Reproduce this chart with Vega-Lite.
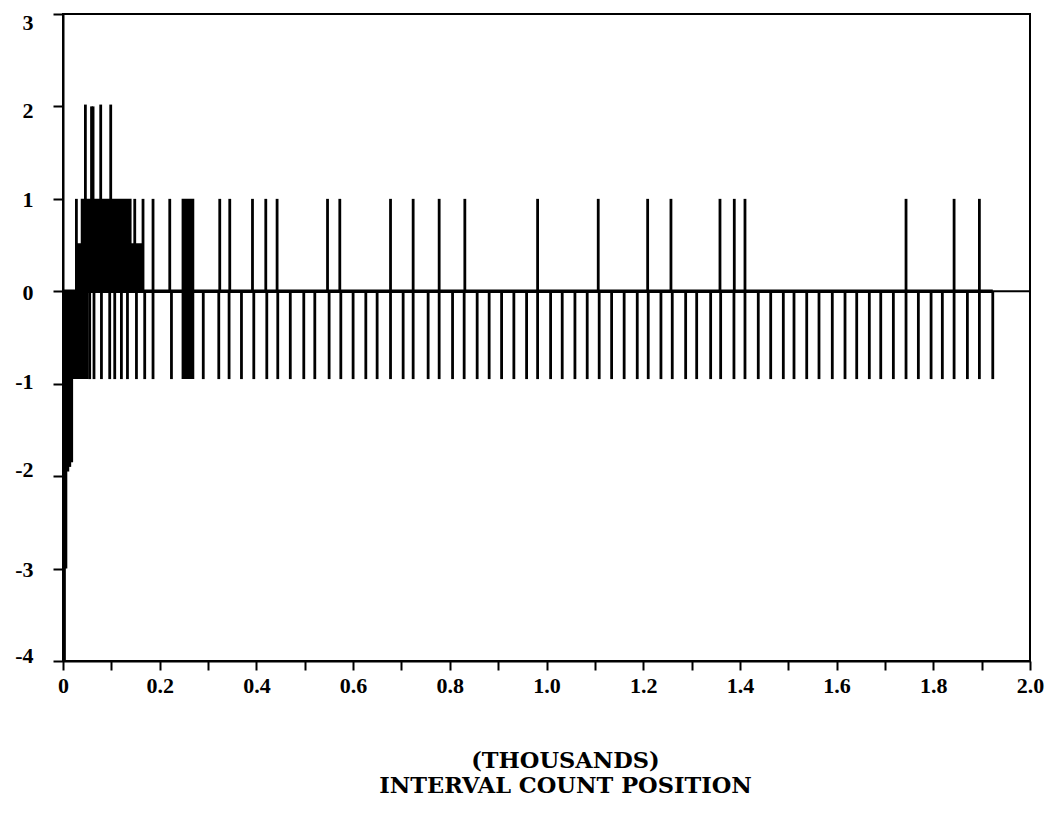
{
  "$schema": "https://vega.github.io/schema/vega-lite/v6.json",
  "width": 967,
  "height": 647,
  "autosize": {"type": "none"},
  "padding": {"left": 63, "top": 14, "right": 21, "bottom": 156},
  "background": "white",
  "config": {
    "view": {"stroke": "black", "strokeWidth": 2},
    "axis": {
      "labelFont": "Liberation Serif",
      "labelFontWeight": "bold",
      "labelColor": "black",
      "titleFont": "DejaVu Serif",
      "titleFontWeight": "bold",
      "titleColor": "black",
      "domainColor": "black",
      "domainWidth": 2,
      "tickColor": "black",
      "tickWidth": 2,
      "grid": false
    }
  },
  "datasets": {
    "spikes": [
      {"x": 0.003, "v": -4.0}, {"x": 0.006, "v": -3.0}, {"x": 0.010, "v": -1.95}, {"x": 0.014, "v": -1.9}, {"x": 0.018, "v": -1.85},
      {"x": 0.0552, "v": -0.95}, {"x": 0.0641, "v": -0.95}, {"x": 0.0795, "v": -0.95}, {"x": 0.0966, "v": -0.95},
      {"x": 0.1070, "v": -0.95}, {"x": 0.1208, "v": -0.95}, {"x": 0.1333, "v": -0.95}, {"x": 0.1519, "v": -0.95},
      {"x": 0.1690, "v": -0.95}, {"x": 0.1862, "v": -0.95}, {"x": 0.2243, "v": -0.95}, {"x": 0.2901, "v": -0.95},
      {"x": 0.3222, "v": -0.95}, {"x": 0.3435, "v": -0.95}, {"x": 0.3691, "v": -0.95}, {"x": 0.3946, "v": -0.95},
      {"x": 0.4215, "v": -0.95}, {"x": 0.4442, "v": -0.95}, {"x": 0.4701, "v": -0.95}, {"x": 0.4980, "v": -0.95},
      {"x": 0.5208, "v": -0.95}, {"x": 0.5504, "v": -0.95}, {"x": 0.5746, "v": -0.95}, {"x": 0.6000, "v": -0.95},
      {"x": 0.6263, "v": -0.95}, {"x": 0.6497, "v": -0.95}, {"x": 0.6774, "v": -0.95}, {"x": 0.7035, "v": -0.95},
      {"x": 0.7242, "v": -0.95}, {"x": 0.7552, "v": -0.95}, {"x": 0.7780, "v": -0.95}, {"x": 0.8057, "v": -0.95},
      {"x": 0.8297, "v": -0.95}, {"x": 0.8566, "v": -0.95}, {"x": 0.8814, "v": -0.95}, {"x": 0.9071, "v": -0.95},
      {"x": 0.9325, "v": -0.95}, {"x": 0.9588, "v": -0.95}, {"x": 0.9816, "v": -0.95}, {"x": 1.0085, "v": -0.95},
      {"x": 1.0325, "v": -0.95}, {"x": 1.0588, "v": -0.95}, {"x": 1.0842, "v": -0.95}, {"x": 1.1090, "v": -0.95},
      {"x": 1.1347, "v": -0.95}, {"x": 1.1606, "v": -0.95}, {"x": 1.1877, "v": -0.95}, {"x": 1.2104, "v": -0.95},
      {"x": 1.2367, "v": -0.95}, {"x": 1.2601, "v": -0.95}, {"x": 1.2878, "v": -0.95}, {"x": 1.3106, "v": -0.95},
      {"x": 1.3395, "v": -0.95}, {"x": 1.3602, "v": -0.95}, {"x": 1.3877, "v": -0.95}, {"x": 1.4105, "v": -0.95},
      {"x": 1.4380, "v": -0.95}, {"x": 1.4637, "v": -0.95}, {"x": 1.4898, "v": -0.95}, {"x": 1.5119, "v": -0.95},
      {"x": 1.5382, "v": -0.95}, {"x": 1.5636, "v": -0.95}, {"x": 1.5911, "v": -0.95}, {"x": 1.6174, "v": -0.95},
      {"x": 1.6416, "v": -0.95}, {"x": 1.6677, "v": -0.95}, {"x": 1.6913, "v": -0.95}, {"x": 1.7174, "v": -0.95},
      {"x": 1.7436, "v": -0.95}, {"x": 1.7691, "v": -0.95}, {"x": 1.7954, "v": -0.95}, {"x": 1.8187, "v": -0.95},
      {"x": 1.8430, "v": -0.95}, {"x": 1.8705, "v": -0.95}, {"x": 1.8953, "v": -0.95}, {"x": 1.9230, "v": -0.95},
      {"x": 0.0277, "v": 1.0}, {"x": 0.1484, "v": 1.0}, {"x": 0.1655, "v": 1.0}, {"x": 0.1862, "v": 1.0},
      {"x": 0.2208, "v": 1.0}, {"x": 0.3242, "v": 1.0}, {"x": 0.3449, "v": 1.0}, {"x": 0.3919, "v": 1.0},
      {"x": 0.4194, "v": 1.0}, {"x": 0.4428, "v": 1.0}, {"x": 0.5471, "v": 1.0}, {"x": 0.5725, "v": 1.0},
      {"x": 0.6774, "v": 1.0}, {"x": 0.7242, "v": 1.0}, {"x": 0.7780, "v": 1.0}, {"x": 0.8311, "v": 1.0},
      {"x": 0.9816, "v": 1.0}, {"x": 1.1070, "v": 1.0}, {"x": 1.2092, "v": 1.0}, {"x": 1.2574, "v": 1.0},
      {"x": 1.3588, "v": 1.0}, {"x": 1.3884, "v": 1.0}, {"x": 1.4105, "v": 1.0}, {"x": 1.7436, "v": 1.0},
      {"x": 1.8430, "v": 1.0}, {"x": 1.8953, "v": 1.0},
      {"x": 0.0463, "v": 2.02}, {"x": 0.0590, "v": 2.0}, {"x": 0.0622, "v": 2.0}, {"x": 0.0780, "v": 2.02}, {"x": 0.0987, "v": 2.02}
    ],
    "blocks": [
      {"x0": 0.0, "x1": 0.053, "v0": -0.95, "v1": 0},
      {"x0": 0.0277, "x1": 0.1655, "v0": 0, "v1": 0.52},
      {"x0": 0.0367, "x1": 0.1418, "v0": 0, "v1": 1.0},
      {"x0": 0.2453, "x1": 0.2715, "v0": -0.95, "v1": 1.0}
    ],
    "baseline": [{"x0": 0, "x1": 1.923}],
    "zeroline": [{"x0": 0, "x1": 2.0}]
  },
  "layer": [
    {
      "data": {"name": "zeroline"},
      "mark": {"type": "rule", "color": "black", "strokeWidth": 2},
      "encoding": {
        "x": {"field": "x0", "type": "quantitative"},
        "x2": {"field": "x1"},
        "y": {"datum": 0, "type": "quantitative"}
      }
    },
    {
      "data": {"name": "baseline"},
      "mark": {"type": "rule", "color": "black", "strokeWidth": 3.5},
      "encoding": {
        "x": {"field": "x0", "type": "quantitative"},
        "x2": {"field": "x1"},
        "y": {"datum": 0, "type": "quantitative"}
      }
    },
    {
      "data": {"name": "blocks"},
      "mark": {"type": "rect", "color": "black"},
      "encoding": {
        "x": {"field": "x0", "type": "quantitative"},
        "x2": {"field": "x1"},
        "y": {"field": "v0", "type": "quantitative"},
        "y2": {"field": "v1"}
      }
    },
    {
      "data": {"name": "spikes"},
      "mark": {"type": "rule", "color": "black", "strokeWidth": 2.8},
      "encoding": {
        "x": {
          "field": "x", "type": "quantitative",
          "scale": {"domain": [0, 2], "nice": false, "zero": false},
          "axis": {
            "values": [0, 0.1, 0.2, 0.3, 0.4, 0.5, 0.6, 0.7, 0.8, 0.9, 1.0, 1.1, 1.2, 1.3, 1.4, 1.5, 1.6, 1.7, 1.8, 1.9, 2.0],
            "labelExpr": "datum.value == 0 ? '0' : (round(datum.value * 10) % 2 == 0 ? format(datum.value, '.1f') : '')",
            "labelFontSize": 22,
            "tickSize": 9,
            "labelPadding": 5,
            "labelFlush": false,
            "labelOverlap": false,
            "title": ["(THOUSANDS)", "INTERVAL COUNT POSITION"],
            "titleFontSize": 22.5,
            "titleLineHeight": 25,
            "titleAnchor": "start",
            "titleAlign": "center",
            "titleBaseline": "top",
            "titleX": 502,
            "titleY": 88
          }
        },
        "y": {
          "field": "v", "type": "quantitative",
          "scale": {"domain": [-4, 3], "nice": false, "zero": false},
          "axis": {
            "values": [-4, -3, -2, -1, 0, 1, 2, 3],
            "labelExpr": "datum.value < 0 ? '-' + abs(datum.value) : '' + datum.value",
            "labelFontSize": 22,
            "tickSize": 10,
            "labelPadding": 20,
            "labelOffset": {"expr": "datum.value == 3 ? 8 : datum.value == 2 ? 4 : datum.value == -2 ? -7 : datum.value == -4 ? -6 : datum.value == -1 ? -2 : 1"},
            "labelFlush": false,
            "labelOverlap": false,
            "title": null
          }
        },
        "y2": {"datum": 0}
      }
    }
  ]
}
